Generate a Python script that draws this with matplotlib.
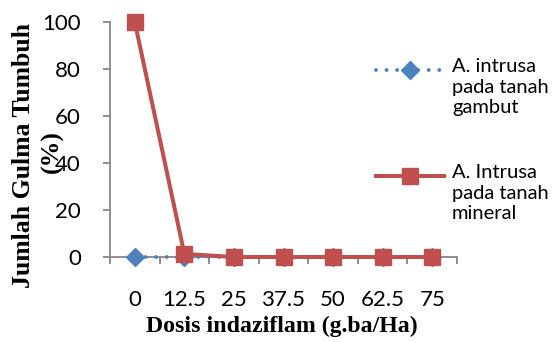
import numpy as np
import matplotlib
matplotlib.use("Agg")
import matplotlib.pyplot as plt
from matplotlib.lines import Line2D

# doses (g.ba/Ha) and percentage of weeds growing
dosis = ["0", "12.5", "25", "37.5", "50", "62.5", "75"]
gambut = [0, 0, 0, 0, 0, 0, 0]
mineral = [100, 1.3, 0, 0, 0, 0, 0]

label_gambut = "A. intrusa\npada tanah\ngambut"
label_mineral = "A. Intrusa\npada tanah\nmineral"

blue = "#4F81BD"
red = "#C0504D"
grey = "#868686"

W, H = 558, 342
fig = plt.figure(figsize=(W / 100, H / 100), dpi=100)
ax = fig.add_axes([110 / W, 1 - 257 / H, 347 / W, 235 / H])

blue_style = dict(color=blue, lw=2.8, linestyle=(0, (0.01, 2.7)),
                  dash_capstyle="round", marker="D", markersize=9)
red_style = dict(color=red, lw=2.9, marker="s", markersize=11)

x = np.arange(len(dosis))
ax.plot(x, gambut, clip_on=False, zorder=3, **blue_style)
ax.plot(x, mineral, clip_on=False, zorder=4, **red_style)

ax.set_xlim(-0.5, len(dosis) - 0.5)
ax.set_ylim(0, 100)
ax.set_yticks([0, 20, 40, 60, 80, 100])
ax.set_xticks(x)
ax.set_xticklabels(dosis)
ax.set_xticks(np.arange(len(dosis) + 1) - 0.5, minor=True)

for side in ["top", "right"]:
    ax.spines[side].set_visible(False)
for side in ["left", "bottom"]:
    ax.spines[side].set_color(grey)
    ax.spines[side].set_linewidth(1.3)

ax.tick_params(axis="y", direction="out", length=5, width=1.3, color=grey,
               pad=16, labelsize=16)
ax.tick_params(axis="x", which="major", length=0, pad=24, labelsize=16)
ax.tick_params(axis="x", which="minor", direction="out", length=5,
               width=1.3, color=grey)
for lbl in ax.get_xticklabels() + ax.get_yticklabels():
    lbl.set_fontfamily("Lato")

# axis titles
fig.text(24 / W, 1 - 155 / H, "Jumlah Gulma Tumbuh", rotation=90,
         ha="center", va="center", family="Liberation Serif",
         weight="bold", fontsize=18.5)
fig.text(52 / W, 1 - 152 / H, "(%)", rotation=90,
         ha="center", va="center", family="Liberation Serif",
         weight="bold", fontsize=18.5)
fig.text(282 / W, 1 - 326 / H, "Dosis indaziflam (g.ba/Ha)",
         ha="center", va="center", family="Liberation Serif",
         weight="bold", fontsize=17.2)

# legend: handle level with the first line of each label
for y0, style, label in [(70, blue_style, label_gambut),
                         (176, red_style, label_mineral)]:
    fig.add_artist(Line2D([376 / W, 444 / W], [1 - y0 / H] * 2,
                          transform=fig.transFigure, markevery=[],
                          **style))
    fig.add_artist(Line2D([410 / W], [1 - y0 / H],
                          transform=fig.transFigure, linestyle="none",
                          marker=style["marker"], color=style["color"],
                          markersize=style["markersize"]))
    fig.text(452 / W, 1 - (y0 - 12) / H, label, ha="left", va="top",
             family="Lato", fontsize=14.5, linespacing=1.25)

fig.savefig("out.png", dpi=100)
